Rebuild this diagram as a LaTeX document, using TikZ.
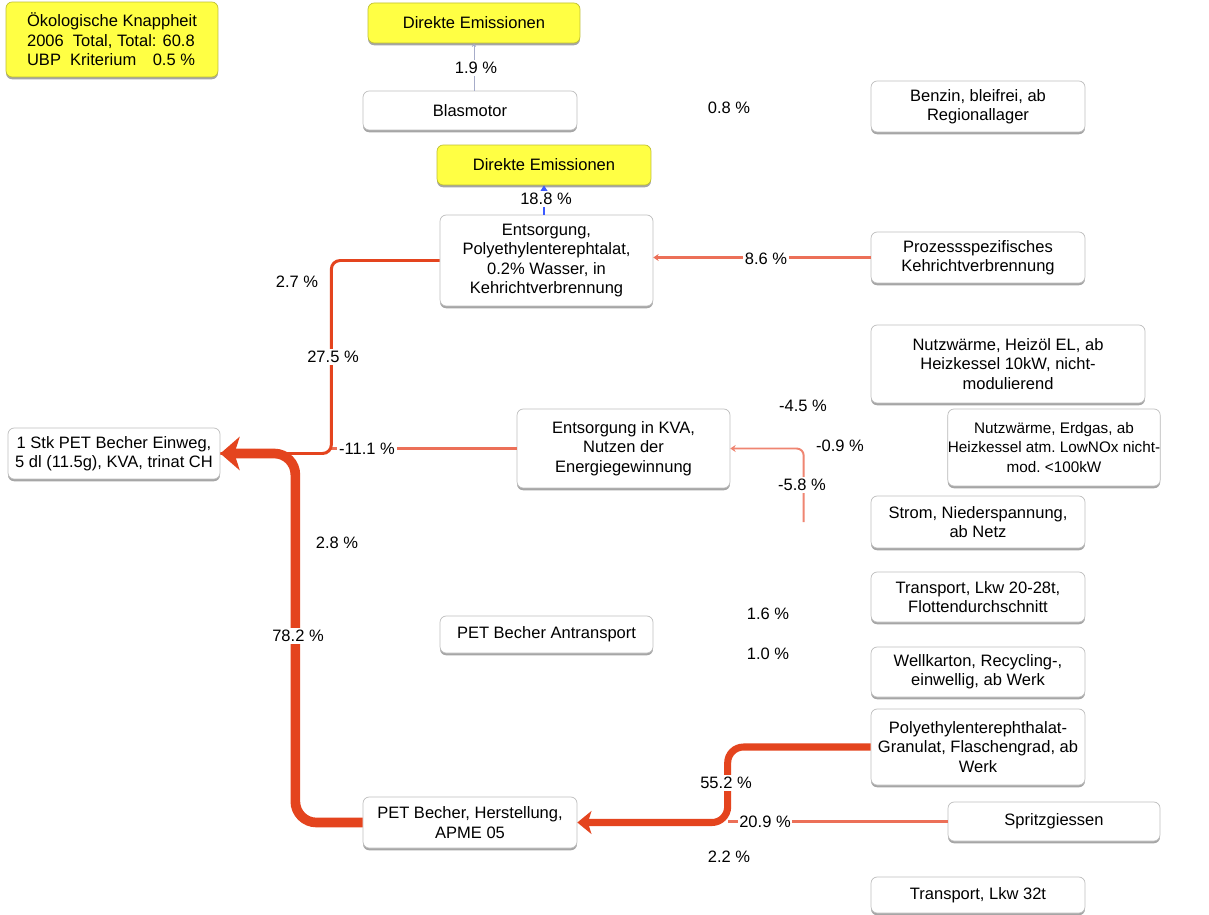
\documentclass[tikz,border=0pt]{standalone}
\usepackage{fontspec}
\setmainfont{Liberation Sans}
\usetikzlibrary{arrows.meta,positioning,shadows,calc}
\definecolor{flowred}{RGB}{228,68,30}
\definecolor{flowsalmon}{RGB}{236,112,88}
\definecolor{flowblue}{RGB}{60,90,255}
\definecolor{boxyellow}{RGB}{255,255,68}
\definecolor{boxline}{RGB}{190,190,190}

\begin{document}
\begin{tikzpicture}[x=0.02cm, y=-0.02cm,
  every node/.style={font=\fontsize{9.4}{11}\selectfont, align=center, inner sep=2pt},
  proc/.style={draw=boxline, fill=white, rounded corners=3.5pt,
               minimum width=4.28cm, minimum height=1.02cm,
               drop shadow={shadow xshift=0pt, shadow yshift=-1.3pt, fill=black!35, opacity=1}},
  emis/.style={proc, fill=boxyellow, draw=boxyellow!75!black},
  pct/.style={fill=white, inner sep=1pt},
]
\useasboundingbox (0,0) rectangle (1209,915);
\fill[white] (0,0) rectangle (1209,915);

% === Legend ===
\node[emis, align=left, minimum width=4.24cm, minimum height=1.5cm]
      (leg) at (112,39.5) {Ökologische Knappheit\\2006\ \ Total, Total: 60.8\\UBP\ \ Kriterium\quad 0.5 \%};

% === Upper column ===
\node[emis, minimum width=4.24cm, minimum height=0.8cm] (de1) at (474,23) {Direkte Emissionen};
\node[proc, minimum height=0.78cm] (blas) at (470,110.5) {Blasmotor};
\node[emis, minimum height=0.8cm] (de2) at (544,165) {Direkte Emissionen};
\node[proc, minimum width=4.26cm, minimum height=1.82cm]
      (ent) at (546.5,260.5) {Entsorgung,\\Polyethylenterephtalat,\\0.2\% Wasser, in\\Kehrichtverbrennung};
\node[proc, minimum width=4.26cm, minimum height=1.58cm]
      (kva) at (623.5,448.5) {Entsorgung in KVA,\\Nutzen der\\Energiegewinnung};
\node[proc, minimum width=4.24cm] (stk) at (114,453.5) {1 Stk PET Becher Einweg,\\5 dl (11.5g), KVA, trinat CH};
\node[proc, minimum width=4.26cm, minimum height=0.74cm] (antr) at (546.5,634.5) {PET Becher Antransport};
\node[proc] (herst) at (470,822.5) {PET Becher, Herstellung,\\APME 05};

% === Right column ===
\node[proc] (benz) at (978,106.5) {Benzin, bleifrei, ab\\Regionallager};
\node[proc] (proz) at (978,257.5) {Prozessspezifisches\\Kehrichtverbrennung};
\node[proc, minimum width=5.48cm, minimum height=1.56cm]
      (nw1) at (1008,364) {Nutzwärme, Heizöl EL, ab\\Heizkessel 10kW, nicht-\\modulierend};
\node[proc, minimum width=4.24cm, minimum height=1.54cm, inner xsep=0pt, font=\fontsize{8.7}{11}\selectfont]
      (nw2) at (1054,447.5) {Nutzwärme, Erdgas, ab\\Heizkessel atm.\ LowNOx nicht-\\mod.\ <100kW};
\node[proc, minimum height=1.04cm] (strom) at (978,522) {Strom, Niederspannung,\\ab Netz};
\node[proc, minimum height=1.0cm] (trp1) at (978,597) {Transport, Lkw 20-28t,\\Flottendurchschnitt};
\node[proc, minimum height=1.0cm] (well) at (978,672) {Wellkarton, Recycling-,\\einwellig, ab Werk};
\node[proc, minimum height=1.52cm] (pet) at (978,747) {Polyethylenterephthalat-\\Granulat, Flaschengrad, ab\\Werk};
\node[proc, minimum width=4.24cm, minimum height=0.78cm] (spritz) at (1054,821.5) {Spritzgiessen};
\node[proc, minimum height=0.72cm] (trp2) at (978,895) {Transport, Lkw 32t};

% === Junctions ===
\coordinate (j1) at ($(stk.east)+(111,0)$);
\coordinate (j2) at ($(stk.east)+(75,0)$);
\coordinate (j3) at ($(pet.west)+(-143,0)$);
\coordinate (s1) at ($(strom.west)+(-67,0)$);

% === Thin flows ===
\draw[-{Stealth[length=2pt,width=2.5pt]}, flowblue!30!gray!60, line width=0.15pt] (blas.north -| de1.south) -- (de1.south);
\draw[-{Stealth[length=4pt,width=5pt]}, flowblue, line width=0.9pt] (ent.north -| de2.south) -- (de2.south);
\draw[-{Stealth[length=3pt,width=4pt]}, flowsalmon, line width=1.2pt] (proz.west) -- (proz.west -| ent.east);
\draw[-{Stealth[length=3pt,width=4pt]}, flowsalmon!85, line width=1.1pt, rounded corners=4pt] (s1) |- (kva.east);
\draw[flowsalmon, line width=1.2pt] (kva.west) -- (kva.west -| j1);
\draw[flowsalmon, line width=1.2pt] (spritz.west) -- (spritz.west -| j3);

% === Main flows ===
\draw[flowred, line width=1.7pt, rounded corners=5pt] (ent.west) -| (j1) -- (stk.east);
\draw[-{Stealth[length=8pt,width=13pt,inset=2pt]}, flowred, line width=4pt, rounded corners=9pt]
      (pet.west) -- (j3) |- (herst.east);
\draw[-{Stealth[length=11pt,width=19pt,inset=3pt]}, flowred, line width=5.5pt, rounded corners=12pt]
      (herst.west) -| (j2) -- (stk.east);

% === Percentages ===
\node[pct] (p1) at (476,68) {1.9 \%};
\node[pct] (p2) at (729,108) {0.8 \%};
\node[pct] (p3) at (546,199) {18.8 \%};
\node[pct] (p4) at (766,259) {8.6 \%};
\node[pct] (p5) at (297,282) {2.7 \%};
\node[pct] (p6) at (333,357) {27.5 \%};
\node[pct] (p7) at (803,406) {-4.5 \%};
\node[pct] (p8) at (840,446) {-0.9 \%};
\node[pct] (p9) at (367,449) {-11.1 \%};
\node[pct] (p10) at (802,485) {-5.8 \%};
\node[pct] (p11) at (337,543) {2.8 \%};
\node[pct] (p12) at (768,614) {1.6 \%};
\node[pct] (p13) at (298,636) {78.2 \%};
\node[pct] (p14) at (768,654) {1.0 \%};
\node[pct] (p15) at (726,783) {55.2 \%};
\node[pct] (p16) at (765,822) {20.9 \%};
\node[pct] (p17) at (729,857) {2.2 \%};

\end{tikzpicture}
\end{document}
